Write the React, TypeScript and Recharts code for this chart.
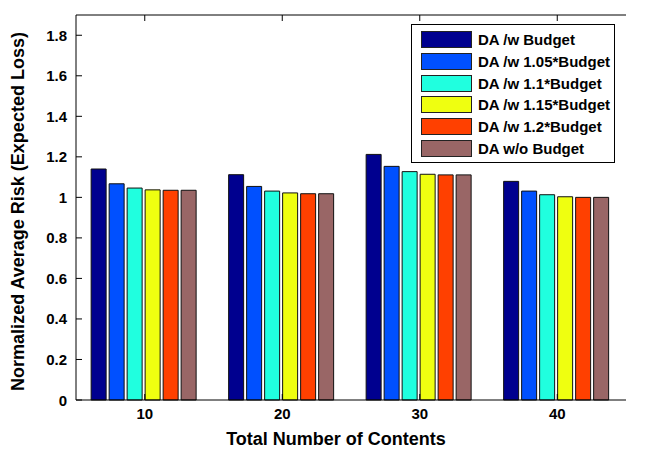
import { BarChart, Bar, XAxis, YAxis, Legend, ReferenceLine } from 'recharts';

const contents = ['10', '20', '30', '40'];
const budget = [1.14, 1.112, 1.212, 1.079];
const budget105 = [1.067, 1.054, 1.153, 1.031];
const budget110 = [1.046, 1.031, 1.127, 1.013];
const budget115 = [1.037, 1.022, 1.114, 1.003];
const budget120 = [1.035, 1.018, 1.111, 1.0];
const noBudget = [1.035, 1.018, 1.111, 1.0];
const yTicks = [0, 0.2, 0.4, 0.6, 0.8, 1, 1.2, 1.4, 1.6, 1.8];
const yMax = 1.9;

const series = [
  { key: 'b100', name: 'DA /w Budget', values: budget, color: '#00008F' },
  { key: 'b105', name: 'DA /w 1.05*Budget', values: budget105, color: '#0050FF' },
  { key: 'b110', name: 'DA /w 1.1*Budget', values: budget110, color: '#20FFDF' },
  { key: 'b115', name: 'DA /w 1.15*Budget', values: budget115, color: '#EFFF10' },
  { key: 'b120', name: 'DA /w 1.2*Budget', values: budget120, color: '#FF4000' },
  { key: 'nob', name: 'DA w/o Budget', values: noBudget, color: '#996666' },
];

const data = contents.map((n, i) => {
  const row: Record<string, string | number> = { n };
  series.forEach((s) => (row[s.key] = s.values[i]));
  return row;
});

const FONT = '"Liberation Sans", Arial, Helvetica, sans-serif';
const TICK = 6;

const LeftTick = ({ x, y, payload }: any) => (
  <g>
    <text x={x} y={y} textAnchor="end" dominantBaseline="central" fontFamily={FONT} fontWeight="bold" fontSize={15} fill="#000">
      {String(payload.value)}
    </text>
    <line x1={x + 9} x2={x + 9 + TICK} y1={y} y2={y} stroke="#000" />
  </g>
);

const RightTick = ({ x, y }: any) => <line x1={x - TICK} x2={x} y1={y} y2={y} stroke="#000" />;

// bottom axis tick: label below, tick mark pointing up into the plot; also mirrors a tick on the top frame
const BottomTick = ({ x, y, payload }: any) => (
  <g>
    <line x1={x} x2={x} y1={y - 8} y2={y - 8 - TICK} stroke="#000" />
    <line x1={x} x2={x} y1={15} y2={15 + TICK} stroke="#000" />
    <text x={x} y={y} textAnchor="middle" dominantBaseline="hanging" fontFamily={FONT} fontWeight="bold" fontSize={15} fill="#000">
      {payload.value}
    </text>
  </g>
);

const LegendBox = () => (
  <div
    style={{
      width: 204,
      height: 139,
      border: '1px solid #000',
      background: '#fff',
      boxSizing: 'border-box',
      paddingTop: 4,
      fontFamily: FONT,
      fontWeight: 'bold',
      fontSize: 15,
    }}
  >
    {series.map((s) => (
      <div key={s.key} style={{ display: 'flex', alignItems: 'center', height: 21.7, paddingLeft: 9 }}>
        <span
          style={{
            display: 'inline-block',
            width: 51,
            height: 17,
            background: s.color,
            border: '1px solid #222',
            boxSizing: 'border-box',
            marginRight: 6,
          }}
        />
        <span>{s.name}</span>
      </div>
    ))}
  </div>
);

export default function App() {
  return (
    <div style={{ width: 647, height: 452, background: '#fff' }}>
      <style>{'body{margin:0}'}</style>
      <BarChart
        width={647}
        height={452}
        data={data}
        margin={{ top: 15, right: 21, bottom: 0, left: 0 }}
        barCategoryGap="11%"
        barGap={3}
      >
        <XAxis
          dataKey="n"
          height={52}
          tickSize={0}
          tickMargin={8}
          tick={BottomTick}
          stroke="#000"
          label={{
            content: ({ viewBox }: any) => (
              <text
                x={viewBox.x + viewBox.width / 2 - 15}
                y={viewBox.y + 45}
                textAnchor="middle"
                fontFamily={FONT}
                fontWeight="bold"
                fontSize={18}
                fill="#000"
              >
                Total Number of Contents
              </text>
            ),
          }}
        />
        <YAxis
          width={76}
          domain={[0, yMax]}
          ticks={yTicks}
          tickSize={0}
          tickMargin={9}
          tick={LeftTick}
          stroke="#000"
          label={{
            content: ({ viewBox }: any) => {
              const cx = 18;
              const cy = viewBox.y + viewBox.height / 2 + 4;
              return (
                <text
                  x={cx}
                  y={cy}
                  transform={`rotate(-90, ${cx}, ${cy})`}
                  textAnchor="middle"
                  dominantBaseline="central"
                  fontFamily={FONT}
                  fontWeight="bold"
                  fontSize={18}
                  fill="#000"
                >
                  Normalized Average Risk (Expected Loss)
                </text>
              );
            },
          }}
        />
        <YAxis
          yAxisId="right"
          orientation="right"
          width={0}
          domain={[0, yMax]}
          ticks={yTicks}
          tickSize={0}
          tickMargin={0}
          tick={RightTick}
          stroke="#000"
        />
        <ReferenceLine y={yMax} stroke="#000" strokeWidth={1} ifOverflow="visible" />
        <Legend
          content={() => <LegendBox />}
          layout="horizontal"
          verticalAlign="middle"
          align="center"
          wrapperStyle={{ left: 411, top: 24, width: 204, height: 139 }}
        />
        {series.map((s) => (
          <Bar key={s.key} dataKey={s.key} name={s.name} fill={s.color} stroke="#111" strokeWidth={1} isAnimationActive={false} />
        ))}
      </BarChart>
    </div>
  );
}
